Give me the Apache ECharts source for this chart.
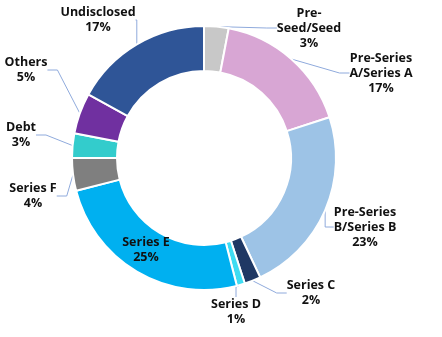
<!DOCTYPE html>
<html><head><meta charset="utf-8">
<script src="https://cdn.jsdelivr.net/npm/echarts@6/dist/echarts.min.js"></script>
<style>html,body{margin:0;padding:0;background:#fff}#c{width:442px;height:337px}</style>
</head><body><div id="c"></div>
<script>
const categories = ["Pre-Seed/Seed","Pre-Series A/Series A","Pre-Series B/Series B","Series C","Series D","Series E","Series F","Debt","Others","Undisclosed"];
const labelTexts = ["Pre-\nSeed/Seed","Pre-Series\nA/Series A","Pre-Series\nB/Series B","Series C","Series D","Series E","Series F","Debt","Others","Undisclosed"];
const values = [3,17,23,2,1,25,4,3,5,17];
const colors = ["#c8c8c8","#d8a6d4","#9dc3e6","#1f3864","#3fdcf2","#00b0f0","#7f7f7f","#33cccc","#7030a0","#2f5597"];
const labelPos = [[309,28],[381,73],[365,227],[311,293],[236,312],[146,250],[33,196],[21,135],[26,70],[98,20]];

const chart = echarts.init(document.getElementById('c'), null, {renderer:'canvas'});
chart.setOption({
  animation:false,
  series:[{
    type:'pie',
    center:[204,158],
    radius:[87,132],
    startAngle:90,
    clockwise:true,
    avoidLabelOverlap:false,
    itemStyle:{borderColor:'#fff',borderWidth:2},
    label:{
      show:true,
      formatter:function(p){return labelTexts[p.dataIndex]+'\n'+p.value+'%';},
      fontFamily:'Open Sans',
      fontWeight:'bold',
      fontSize:12.5,
      lineHeight:15,
      color:'#111',
      align:'center'
    },
    labelLine:{show:true,lineStyle:{color:'#8faadc',width:1},length:10,length2:10},
    labelLayout:function(p){
      const pos = labelPos[p.dataIndex];
      return {x:pos[0],y:pos[1],align:'center',verticalAlign:'middle'};
    },
    data:categories.map((c,i)=>({
      name:c,value:values[i],
      itemStyle:{color:colors[i]},
      labelLine: i===5 ? {show:false} : undefined
    }))
  }]
});
</script></body></html>
